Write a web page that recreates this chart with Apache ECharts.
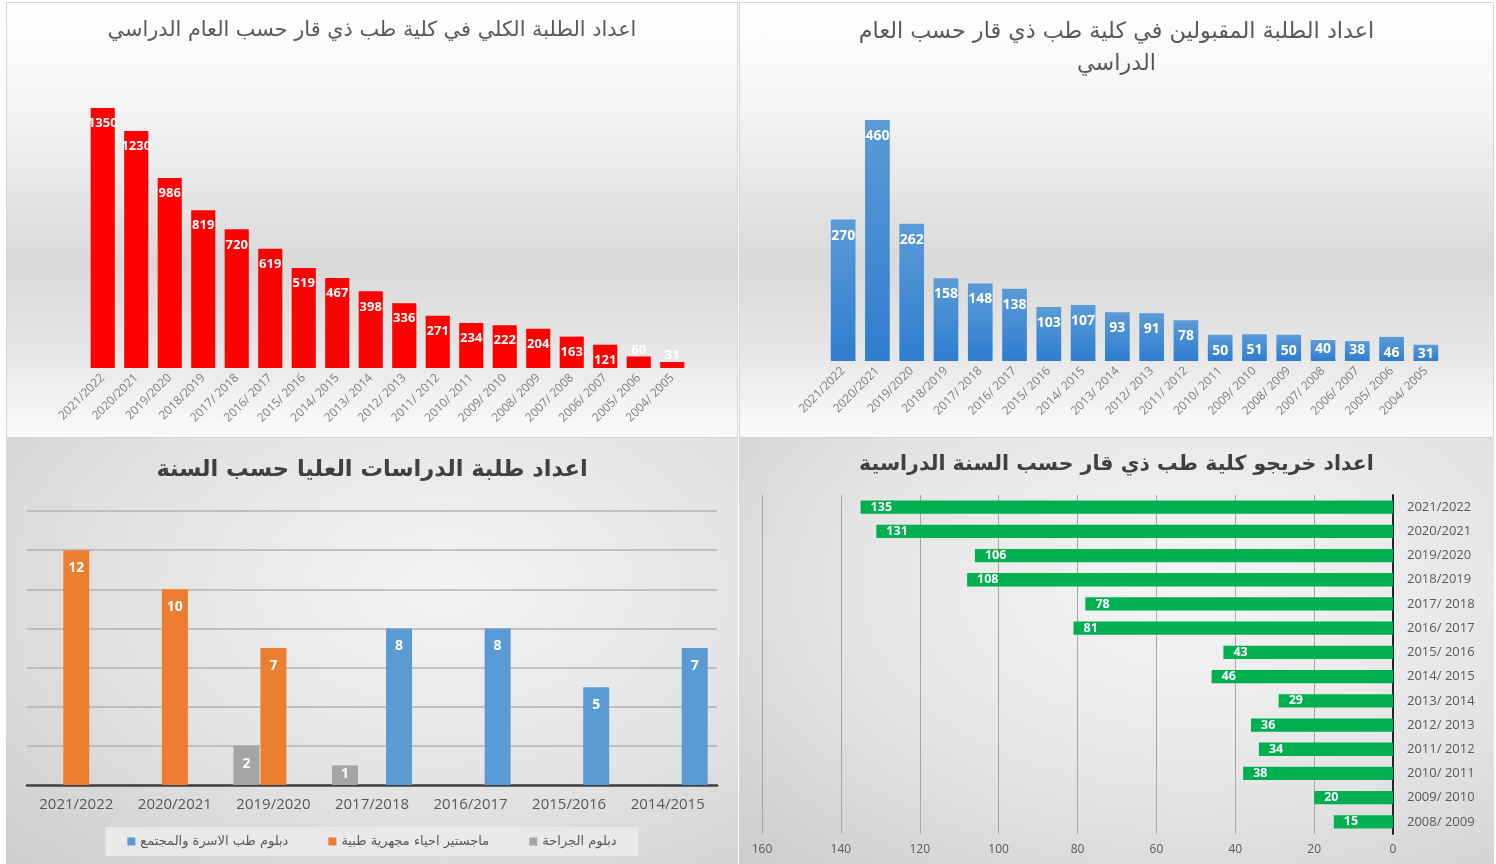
<!DOCTYPE html>
<html>
<head>
<meta charset="utf-8">
<script src="https://cdn.jsdelivr.net/npm/echarts@6/dist/echarts.min.js"></script>
<style>
	html, body { margin: 0; padding: 0; background: #ffffff; }
	.panel { position: absolute; box-sizing: border-box; }
	#p1 { left: 6px; top: 2px; width: 732px; height: 436px; border: 1px solid #d4d4d4;
		background: linear-gradient(to bottom, #ffffff 0%, #f4f4f4 25%, #d9d9d9 60%, #e6e6e6 80%, #fbfbfb 100%); }
	#p2 { left: 739px; top: 2px; width: 755px; height: 436px; border: 1px solid #d4d4d4;
		background: linear-gradient(to bottom, #ffffff 0%, #f4f4f4 25%, #d9d9d9 60%, #e6e6e6 80%, #fbfbfb 100%); }
	#p3 { left: 6px; top: 438px; width: 732px; height: 426px;
		background: radial-gradient(ellipse at 60% 35%, #f4f4f4 0%, #e2e2e2 55%, #cdcdcd 100%); }
	#p4 { left: 739px; top: 438px; width: 755px; height: 426px;
		background: radial-gradient(ellipse at 60% 35%, #f6f6f6 0%, #e4e4e4 55%, #cccccc 100%); }
</style>
</head>
<body>
<div id="p1" class="panel"></div>
<div id="p2" class="panel"></div>
<div id="p3" class="panel"></div>
<div id="p4" class="panel"></div>
<script>
// السنوات الدراسية
const yearsAll = ['2021/2022', '2020/2021', '2019/2020', '2018/2019', '2017/ 2018', '2016/ 2017',
	'2015/ 2016', '2014/ 2015', '2013/ 2014', '2012/ 2013', '2011/ 2012', '2010/ 2011',
	'2009/ 2010', '2008/ 2009', '2007/ 2008', '2006/ 2007', '2005/ 2006', '2004/ 2005'];
// اعداد الطلبة الكلي
const totalStudents = [1350, 1230, 986, 819, 720, 619, 519, 467, 398, 336, 271, 234, 222, 204, 163, 121, 60, 31];
// اعداد الطلبة المقبولين
const acceptedStudents = [270, 460, 262, 158, 148, 138, 103, 107, 93, 91, 78, 50, 51, 50, 40, 38, 46, 31];

// الدراسات العليا
const pgYears = ['2021/2022', '2020/2021', '2019/2020', '2017/2018', '2016/2017', '2015/2016', '2014/2015'];
const surgeryDiploma = [null, null, 2, 1, null, null, null];
const microMaster = [12, 10, 7, null, null, null, null];
const familyDiploma = [null, null, null, 8, 8, 5, 7];
const pgNames = ['دبلوم الجراحة', 'ماجستير احياء مجهرية طبية', 'دبلوم طب الاسرة والمجتمع'];

// الخريجون
const gradYears = ['2021/2022', '2020/2021', '2019/2020', '2018/2019', '2017/ 2018', '2016/ 2017',
	'2015/ 2016', '2014/ 2015', '2013/ 2014', '2012/ 2013', '2011/ 2012', '2010/ 2011',
	'2009/ 2010', '2008/ 2009'];
const graduates = [135, 131, 106, 108, 78, 81, 43, 46, 29, 36, 34, 38, 20, 15];
const gradTicks = [0, 20, 40, 60, 80, 100, 120, 140, 160];

const FONT = '"Open Sans", "DejaVu Sans", sans-serif';
const AR = '"DejaVu Sans", sans-serif';

function labelWhite(size) {
	return { show: true, color: '#ffffff', fontWeight: 'bold', fontSize: size, fontFamily: FONT };
}
// الاعمدة القصيرة: الرقم يلتصق بأعلى العمود
function shortBars(arr, limit, label) {
	return arr.map(v => (v != null && v <= limit) ? { value: v, label: label } : v);
}

// 1 - الطلبة الكلي
const c1 = echarts.init(document.getElementById('p1'));
c1.setOption({
	title: {
		text: 'اعداد الطلبة الكلي في كلية طب ذي قار حسب العام الدراسي',
		left: 'center', top: 12,
		textStyle: { color: '#595959', fontSize: 20.8, fontWeight: 'normal', fontFamily: AR }
	},
	grid: { left: 79, right: 48, top: 105, bottom: 69 },
	xAxis: {
		type: 'category', data: yearsAll,
		axisLine: { show: false }, axisTick: { show: false },
		axisLabel: { rotate: 45, color: '#7f7f7f', fontSize: 12, fontFamily: FONT, interval: 0, margin: 8 }
	},
	yAxis: { type: 'value', min: 0, max: 1350, show: false, splitLine: { show: false } },
	series: [{
		type: 'bar', barCategoryGap: '28%',
		itemStyle: { color: '#ff0000' },
		label: Object.assign(labelWhite(13), { position: 'insideTop', distance: 9 }),
		data: shortBars(totalStudents, 99, { position: 'top', distance: 0 })
	}]
});

// 2 - الطلبة المقبولين
const c2 = echarts.init(document.getElementById('p2'));
c2.setOption({
	title: {
		text: 'اعداد الطلبة المقبولين في كلية طب ذي قار حسب العام\nالدراسي',
		left: 'center', top: 8,
		textStyle: { color: '#595959', fontSize: 22.3, fontWeight: 'normal', fontFamily: AR, lineHeight: 32 }
	},
	grid: { left: 86, right: 50, top: 117, bottom: 76 },
	xAxis: {
		type: 'category', data: yearsAll,
		axisLine: { show: false }, axisTick: { show: false },
		axisLabel: { rotate: 45, color: '#7f7f7f', fontSize: 12, fontFamily: FONT, interval: 0, margin: 8 }
	},
	yAxis: { type: 'value', min: 0, max: 460, show: false, splitLine: { show: false } },
	series: [{
		type: 'bar', barCategoryGap: '28%',
		itemStyle: {
			color: new echarts.graphic.LinearGradient(0, 0, 0, 1, [
				{ offset: 0, color: '#5b9bd8' }, { offset: 1, color: '#2f7dcf' }
			])
		},
		label: Object.assign(labelWhite(14), { position: 'insideTop', distance: 9 }),
		data: shortBars(acceptedStudents, 40, { distance: 2 })
	}]
});

// 3 - الدراسات العليا
const c3 = echarts.init(document.getElementById('p3'));
const pgColors = ['#a5a5a5', '#ed7d31', '#5b9bd5'];
const pgData = [surgeryDiploma, microMaster, familyDiploma];
c3.setOption({
	title: {
		text: 'اعداد طلبة الدراسات العليا حسب السنة',
		left: 'center', top: 16,
		textStyle: { color: '#404040', fontSize: 22.5, fontWeight: 'bold', fontFamily: AR }
	},
	legend: {
		data: [pgNames[2], pgNames[1], pgNames[0]],
		bottom: 8, left: 'center',
		icon: 'rect', itemWidth: 8, itemHeight: 8, itemGap: 40,
		backgroundColor: '#e9e9e9', padding: [8, 22],
		textStyle: { color: '#595959', fontSize: 13, fontFamily: AR }
	},
	grid: { left: 21, right: 21, top: 73, bottom: 79 },
	xAxis: {
		type: 'category', data: pgYears,
		axisLine: { lineStyle: { color: '#404040', width: 2.5 } }, axisTick: { show: false },
		axisLabel: { color: '#595959', fontSize: 15, fontFamily: FONT, margin: 12 }
	},
	yAxis: {
		type: 'value', min: 0, max: 14, interval: 2,
		axisLabel: { show: false }, axisLine: { show: false }, axisTick: { show: false },
		splitLine: { lineStyle: { color: '#b3b3b3', width: 1.5 } }
	},
	series: pgData.map((d, i) => ({
		name: pgNames[i], type: 'bar',
		data: shortBars(d, 1, { distance: 2 }),
		barWidth: 26, barGap: '4%',
		itemStyle: { color: pgColors[i] },
		label: Object.assign(labelWhite(14), { position: 'insideTop', distance: 11 })
	}))
});

// 4 - الخريجون
const c4 = echarts.init(document.getElementById('p4'));
c4.setOption({
	title: {
		text: 'اعداد خريجو كلية طب ذي قار حسب السنة الدراسية',
		left: 'center', top: 11,
		textStyle: { color: '#404040', fontSize: 20.5, fontWeight: 'bold', fontFamily: AR }
	},
	grid: { left: 23, right: 101, top: 57, bottom: 30 },
	xAxis: {
		type: 'value', inverse: true, min: gradTicks[0], max: gradTicks[gradTicks.length - 1], interval: 20,
		axisLine: { show: false }, axisTick: { show: false },
		axisLabel: { color: '#595959', fontSize: 12, fontFamily: FONT, margin: 10 },
		splitLine: { lineStyle: { color: '#a6a6a6', width: 1 } }
	},
	yAxis: {
		type: 'category', data: gradYears, inverse: true, position: 'right',
		axisLine: { lineStyle: { color: '#262626', width: 2 } }, axisTick: { show: false },
		axisLabel: { color: '#595959', fontSize: 13, fontFamily: FONT, margin: 14, align: 'left' }
	},
	series: [{
		type: 'bar', data: graduates, barCategoryGap: '45%',
		itemStyle: { color: '#00b050' },
		label: Object.assign(labelWhite(12.5), { position: 'insideLeft', distance: 10 })
	}]
});
</script>
</body>
</html>
